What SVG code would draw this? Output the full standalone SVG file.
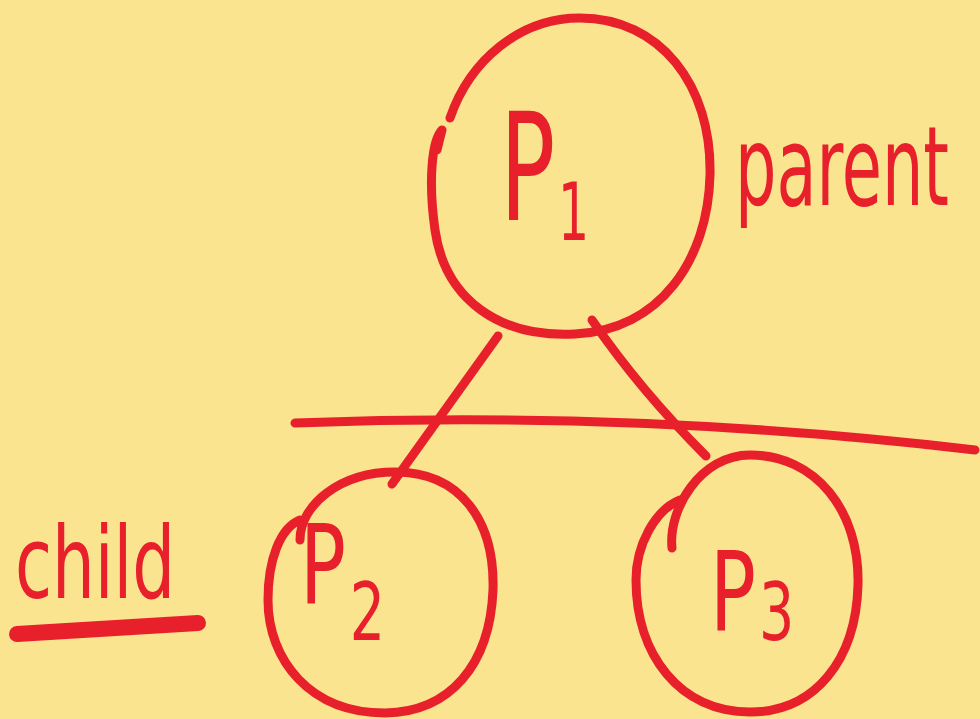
<svg xmlns="http://www.w3.org/2000/svg" width="980" height="719" viewBox="0 0 980 719">
<style>
.ink{fill:none;stroke:#E8202C;stroke-width:9;stroke-linecap:round;stroke-linejoin:round}
.t{fill:#E8202C;font-family:"DejaVu Sans Condensed","Liberation Sans",sans-serif}
</style>
<rect width="980" height="719" fill="#FAE48F"/>
<g id="connectors">
<path class="ink" d="M498,336 L392,484"/>
<path class="ink" d="M592,320 Q640,390 706,456"/>
<path class="ink" d="M295,423 Q640,410 975,450"/>
</g>
<g id="p1">
<path class="ink" d="M450,118 C470,60 520,18 580,18 C660,18 712,85 710,175 C708,260 660,330 575,334 C500,338 445,300 435,230 C428,180 432,140 442,130 L437,150"/>
<text class="t" transform="translate(500,220) scale(0.68,1)" font-size="150">P<tspan font-size="80" dy="20" dx="4">1</tspan></text>
</g>
<text class="t" transform="translate(735,205) scale(0.66,1)" font-size="110">parent</text>
<g id="p2">
<path class="ink" d="M300,540 C300,505 340,472 395,472 C460,472 495,520 493,590 C490,665 450,712 385,713 C310,713 268,660 268,600 C268,560 280,528 300,520"/>
<text class="t" transform="translate(300,603) scale(0.77,1)" font-size="110">P<tspan font-size="80" dy="37" dx="5">2</tspan></text>
</g>
<g id="p3">
<path class="ink" d="M672,548 C668,510 700,455 750,455 C815,455 860,510 858,585 C856,660 815,712 750,712 C680,712 636,655 636,580 C636,545 655,510 680,500"/>
<text class="t" transform="translate(710,630) scale(0.77,1)" font-size="110">P<tspan font-size="80" dy="10" dx="4">3</tspan></text>
</g>
<text class="t" transform="translate(15,598) scale(0.75,1)" font-size="100">child</text>
<path class="ink" d="M17,634 L198,623" style="stroke-width:16"/>
</svg>
